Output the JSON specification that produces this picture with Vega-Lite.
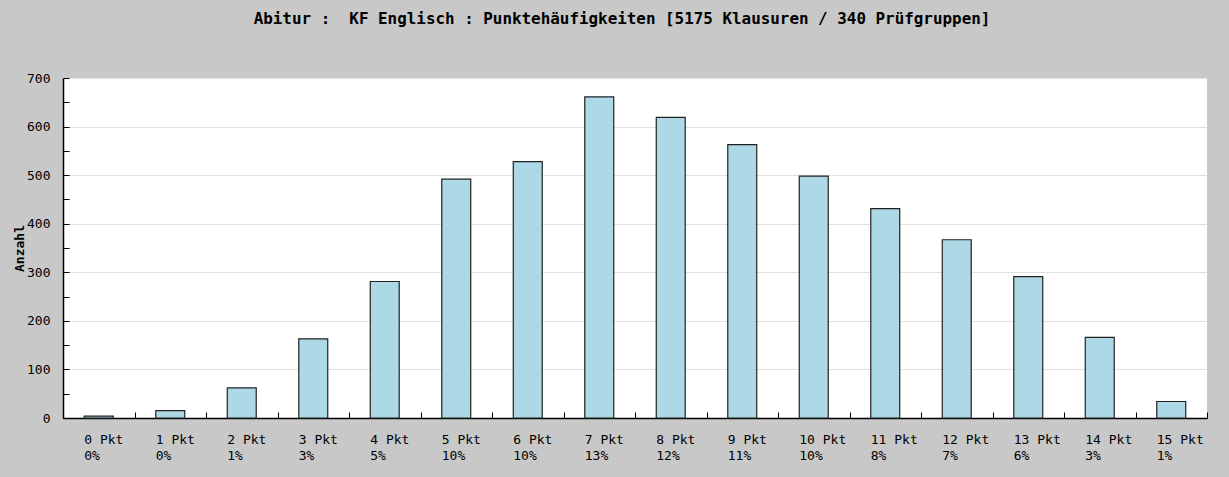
{
  "$schema": "https://vega.github.io/schema/vega-lite/v6.json",
  "width": 1144,
  "height": 340,
  "autosize": {"type": "none"},
  "padding": {"left": 63, "top": 78, "right": 22, "bottom": 59},
  "background": "#c8c8c8",
  "title": {
    "text": "Abitur :\u00a0 KF Englisch : Punktehäufigkeiten [5175 Klausuren / 340 Prüfgruppen]",
    "font": "DejaVu Sans Mono",
    "fontSize": 15.9,
    "fontWeight": "bold",
    "color": "#000000",
    "anchor": "middle",
    "frame": "group",
    "offset": 45,
    "dx": -13
  },
  "config": {
    "view": {"stroke": null, "fill": "#ffffff"}
  },
  "data": {
    "values": [
      {"kategorie": "0 Pkt|0%", "anzahl": 4},
      {"kategorie": "1 Pkt|0%", "anzahl": 15},
      {"kategorie": "2 Pkt|1%", "anzahl": 62},
      {"kategorie": "3 Pkt|3%", "anzahl": 163},
      {"kategorie": "4 Pkt|5%", "anzahl": 281},
      {"kategorie": "5 Pkt|10%", "anzahl": 492},
      {"kategorie": "6 Pkt|10%", "anzahl": 528},
      {"kategorie": "7 Pkt|13%", "anzahl": 661},
      {"kategorie": "8 Pkt|12%", "anzahl": 619},
      {"kategorie": "9 Pkt|11%", "anzahl": 563},
      {"kategorie": "10 Pkt|10%", "anzahl": 498},
      {"kategorie": "11 Pkt|8%", "anzahl": 431},
      {"kategorie": "12 Pkt|7%", "anzahl": 367},
      {"kategorie": "13 Pkt|6%", "anzahl": 291},
      {"kategorie": "14 Pkt|3%", "anzahl": 166},
      {"kategorie": "15 Pkt|1%", "anzahl": 34}
    ]
  },
  "mark": {"type": "bar", "fill": "#add8e6", "stroke": "#222222", "strokeWidth": 1.2, "width": {"band": 0.405}},
  "encoding": {
    "x": {
      "field": "kategorie",
      "type": "ordinal",
      "sort": null,
      "scale": {"paddingInner": 0, "paddingOuter": 0},
      "axis": {
        "title": null,
        "labelAngle": 0,
        "labelExpr": "split(datum.label, '|')",
        "labelAlign": "left",
        "labelBaseline": "top",
        "labelOffset": -15,
        "labelPadding": 21,
        "labelLineHeight": 16,
        "labelFont": "DejaVu Sans Mono",
        "labelFontSize": 13,
        "labelColor": "#000000",
        "tickBand": "extent",
        "tickSize": -6,
        "tickColor": "#000000",
        "domainColor": "#000000",
        "domainWidth": 1.5,
        "grid": false
      }
    },
    "y": {
      "field": "anzahl",
      "type": "quantitative",
      "scale": {"domain": [0, 700], "nice": false},
      "axis": {
        "title": "Anzahl",
        "titleFont": "DejaVu Sans Mono",
        "titleFontSize": 13,
        "titleFontWeight": "bold",
        "titleColor": "#000000",
        "titlePadding": 0,
        "values": [0, 50, 100, 150, 200, 250, 300, 350, 400, 450, 500, 550, 600, 650, 700],
        "labelExpr": "datum.value % 100 === 0 ? datum.label : ''",
        "labelFont": "DejaVu Sans Mono",
        "labelFontSize": 13,
        "labelColor": "#000000",
        "labelPadding": 19,
        "tickSize": -6,
        "tickColor": "#000000",
        "domainColor": "#000000",
        "domainWidth": 1.5,
        "grid": true,
        "gridColor": "#e0e0e0",
        "gridOpacity": {"condition": {"test": "datum.value % 100 === 0", "value": 1}, "value": 0}
      }
    }
  }
}
